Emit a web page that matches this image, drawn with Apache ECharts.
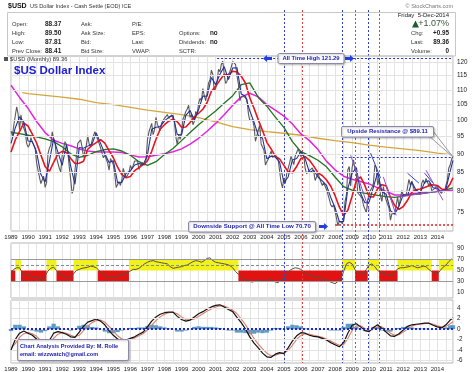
<!DOCTYPE html>
<html><head><meta charset="utf-8">
<script src="https://cdn.jsdelivr.net/npm/echarts@6/dist/echarts.min.js"></script>
<style>html,body{margin:0;padding:0;background:#fff}#c{width:474px;height:372px}</style>
</head><body><div id="c"></div>
<script>
// ---------- data ----------
const startYear = 1989;               // month index 0 = Jan 1989, 311 = Dec 2014
const priceTicks = [75, 80, 85, 90, 95, 100, 105, 110, 115, 120];
const rsiTicks = [10, 30, 50, 70, 90];
const macdTicks = [-6, -4, -2, 0, 2, 4];

// monthly closes
const close = [
  96.6, 95.3, 98.5, 99.0, 104.3, 102.0, 97.1, 101.7, 98.8, 97.6, 96.3, 93.0,
  91.9, 92.6, 94.7, 93.3, 92.5, 91.6, 87.5, 85.5, 85.6, 82.0, 82.4, 83.9,
  81.0, 82.1, 90.0, 91.6, 92.5, 96.4, 94.4, 93.2, 89.0, 89.3, 86.0, 85.0,
  89.5, 91.5, 93.5, 92.7, 90.5, 86.4, 83.0, 79.5, 80.5, 85.5, 89.0, 93.0,
  93.5, 94.0, 91.9, 89.0, 89.0, 92.5, 95.2, 92.8, 92.0, 93.7, 95.2, 96.5,
  96.5, 94.2, 93.0, 91.7, 91.8, 88.9, 89.6, 89.8, 87.5, 85.5, 88.7, 88.7,
  87.0, 84.5, 81.0, 81.0, 82.5, 81.5, 83.0, 86.0, 84.5, 83.6, 84.2, 84.8,
  86.8, 85.8, 86.8, 88.0, 88.2, 88.0, 85.7, 85.9, 87.6, 87.6, 86.9, 88.0,
  94.0, 96.3, 96.2, 99.0, 95.6, 97.0, 100.9, 98.7, 98.5, 96.8, 99.1, 99.6,
  100.6, 100.2, 101.8, 100.6, 101.2, 101.7, 101.6, 99.4, 94.9, 92.6, 95.7, 94.2,
  96.5, 100.3, 101.4, 102.8, 103.6, 104.8, 100.9, 101.8, 98.6, 99.7, 102.8, 101.9,
  105.4, 107.1, 106.3, 110.4, 108.0, 106.3, 109.0, 112.4, 113.4, 117.0, 115.5, 109.6,
  110.4, 112.9, 117.3, 116.4, 119.1, 120.4, 115.5, 112.2, 113.0, 115.5, 116.4, 116.8,
  120.2, 119.5, 119.1, 115.0, 112.0, 106.3, 107.6, 107.6, 107.7, 108.1, 106.8, 102.2,
  99.9, 100.1, 100.1, 98.1, 93.6, 95.3, 96.9, 98.4, 92.8, 92.4, 91.0, 86.9,
  87.8, 88.5, 88.6, 90.8, 89.0, 88.7, 89.7, 89.4, 88.4, 85.3, 82.4, 80.9,
  83.4, 82.0, 84.5, 84.5, 87.4, 89.3, 88.2, 87.0, 89.4, 89.7, 91.4, 91.2,
  89.2, 90.2, 89.6, 85.9, 84.6, 84.8, 85.4, 85.2, 86.1, 85.1, 82.8, 83.7,
  84.7, 83.5, 83.2, 81.5, 82.2, 81.8, 80.5, 80.7, 78.0, 76.7, 76.2, 76.7,
  75.2, 73.6, 71.8, 72.9, 72.8, 72.4, 73.2, 77.5, 79.1, 85.6, 86.5, 81.4,
  86.2, 88.3, 85.7, 84.6, 79.6, 80.1, 78.8, 78.3, 76.6, 76.6, 74.8, 77.9,
  79.5, 80.3, 81.0, 82.0, 86.9, 86.2, 81.6, 83.2, 78.9, 77.5, 81.2, 79.0,
  77.8, 76.8, 75.9, 73.1, 74.6, 74.3, 74.6, 74.3, 78.6, 76.3, 78.3, 80.2,
  79.0, 78.9, 79.0, 78.8, 83.1, 81.6, 82.6, 81.3, 79.9, 79.8, 80.1, 79.8,
  79.2, 82.1, 82.9, 81.9, 83.3, 83.2, 81.5, 82.2, 80.2, 80.2, 80.7, 80.2,
  81.3, 80.2, 80.1, 79.5, 80.4, 79.8, 81.5, 82.8, 86.0, 86.9, 88.4, 89.4
];

// quarterly readings (Jan, Apr, Jul, Oct of each year, then Dec 2014)
const blueMA = [
  93.0, 97.6, 101.1, 99.4,  93.7, 93.5, 90.5, 84.4,  82.4, 87.9, 94.4, 90.5,
  86.8, 92.6, 86.6, 81.8,  91.8, 91.6, 92.2, 92.8,  96.1, 93.0, 90.1, 87.6,
  88.1, 82.2, 82.3, 84.7,  85.3, 86.9, 87.3, 87.0,  89.6, 97.2, 97.8, 98.0,
  99.8, 100.9, 101.5, 95.6,  95.5, 101.5, 103.1, 100.0,  103.4, 107.9, 107.8, 114.3,
  111.8, 115.5, 118.3, 113.6,  117.8, 117.9, 108.6, 107.8,  103.0, 99.4, 95.3, 94.5,
  88.6, 89.3, 89.1, 87.7,  82.2, 83.7, 88.3, 88.7,  90.6, 88.6, 84.9, 85.5,
  83.7, 82.7, 81.5, 78.5,  76.0, 72.8, 72.8, 80.7,  84.7, 86.2, 79.5, 77.2,
  77.4, 81.1, 84.9, 79.9,  79.3, 75.3, 74.5, 76.4,  79.2, 78.9, 82.4, 80.3,
  79.7, 82.3, 82.7, 80.9,  80.7, 79.9, 80.6, 85.2,  88.2
];
const redMA = [
  90.5, 94.0, 96.5, 99.1,  98.2, 95.7, 93.1, 89.7,  86.5, 85.2, 87.6, 90.0,
  90.7, 90.4, 88.7, 87.3,  87.4, 87.9, 91.3, 92.4,  93.2, 94.1, 93.1, 90.9,
  88.9, 86.3, 84.3, 83.5,  83.8, 85.4, 86.2, 87.0,  88.0, 90.7, 94.2, 97.3,
  98.6, 99.7, 100.3, 99.5,  97.8, 97.9, 99.3, 101.0,  102.2, 103.5, 105.7, 109.5,
  111.2, 113.4, 115.4, 115.3,  116.6, 116.3, 114.8, 112.3,  107.3, 103.8, 100.1, 96.8,
  93.3, 91.4, 89.3, 88.6,  86.8, 85.1, 84.8, 86.5,  88.7, 89.2, 88.2, 86.6,
  84.8, 84.1, 82.9, 81.3,  79.0, 76.2, 74.2, 75.4,  78.8, 82.8, 83.7, 81.5,
  78.7, 78.6, 80.7, 81.7,  81.4, 78.5, 76.5, 75.6,  76.3, 77.8, 79.8, 80.4,
  80.6, 81.0, 81.4, 81.7,  81.5, 80.6, 80.4, 81.9,  83.5
];
// half-yearly readings (Jan, Jul of each year, then Dec 2014)
const greenMA = [
  96.3, 95.9, 95.4, 94.9, 94.3, 93.5, 92.0, 90.0, 89.0, 89.6, 90.6, 91.2,
  91.4, 90.8, 89.6, 87.8, 86.8, 87.8, 89.8, 91.5, 93.8, 96.2, 98.6, 100.8,
  102.9, 105.5, 108.0, 111.8, 112.4, 107.4, 104.5, 101.0, 97.8, 93.5, 90.6, 89.5,
  88.2, 86.4, 83.7, 81.2, 80.3, 79.7, 79.4, 79.0, 78.7, 78.5, 78.8, 79.2,
  79.4, 79.7, 80.0, 80.4, 80.9
];
const magentaMA = [
  111.6, 107.4, 103.8, 99.6, 96.2, 93.9, 93.0, 92.3, 91.4, 90.8, 90.5, 90.5,
  90.5, 90.4, 89.7, 89.1, 89.2, 89.6, 90.0, 90.6, 91.4, 92.8, 94.5, 96.6,
  99.0, 101.7, 104.8, 107.6, 108.8, 107.6, 105.0, 103.2, 101.3, 98.8, 95.8, 93.8,
  91.2, 87.9, 85.6, 83.9, 83.1, 82.5, 81.9, 80.9, 80.0, 79.1, 79.1, 79.4,
  79.6, 79.8, 80.0, 80.2, 80.3
];
// long average: month index / value
const goldMonths = [8, 12, 24, 36, 48, 60, 72, 84, 96, 108, 120, 132, 144, 156, 168, 180, 192, 204, 216, 228, 240, 252, 264, 276, 288, 300, 311];
const goldMA = [109.0, 108.7, 108.1, 107.5, 106.8, 105.7, 105.0, 104.1, 103.2, 102.5, 101.8, 100.8, 99.5, 98.0, 97.1, 96.5, 96.0, 95.4, 94.5, 93.8, 93.2, 92.5, 91.9, 91.4, 90.9, 90.2, 89.7];

// RSI every second month
const rsi = [
  48, 52, 55, 55, 46, 43, 42, 40, 38, 37, 36, 34,
  40, 49, 54, 56, 50, 44, 42, 39, 37, 38, 44, 50,
  52, 54, 55, 56, 58, 57, 55, 50, 45, 41, 39, 38,
  37, 39, 41, 43, 44, 45, 49, 52, 52, 54, 58, 62,
  65, 67, 68, 66, 65, 64, 63, 62, 57, 54, 55, 56,
  57, 59, 60, 63, 66, 68, 67, 65, 68, 72, 73, 68,
  65, 64, 63, 62, 61, 59, 55, 48, 43, 38, 35, 32,
  30, 29, 31, 33, 31, 30, 32, 34, 32, 29, 28, 33,
  37, 44, 50, 53, 55, 54, 52, 47, 43, 41, 40, 39,
  39, 37, 35, 33, 30, 28, 26, 30, 35, 48, 62, 65,
  62, 52, 45, 44, 43, 52, 60, 62, 57, 50, 47, 45,
  43, 42, 41, 46, 53, 55, 55, 56, 57, 59, 57, 55,
  56, 58, 57, 52, 48, 45, 43, 50, 56, 60, 66, 71
];
const yellowBlocks = [[3, 7], [25, 32], [44, 61], [83, 160], [233, 242], [251, 259], [272, 296], [301, 311]];
const redBlocks = [[0, 3], [7, 25], [32, 44], [61, 83], [160, 233], [242, 251], [259, 272], [296, 301]];

// MACD quarterly
const macd = [
  -4.0, -2.0, -0.8, -0.4,  -0.8, -1.2, -1.9, -2.9,  -3.2, -2.2, -0.8, -0.5,
  -0.7, -1.0, -1.5, -1.6,  -0.6, 0.5, 1.3, 1.6,  1.9, 1.5, 0.8, -0.3,
  -1.2, -1.9, -2.2, -2.1,  -1.8, -1.5, -1.0, -0.6,  0.4, 1.5, 2.3, 2.8,
  3.1, 3.2, 3.2, 2.4,  1.8, 1.5, 1.7, 2.3,  2.9, 3.3, 3.8, 4.2,
  4.5, 4.6, 4.2, 3.7,  3.3, 2.2, 1.2, 0.0,  -1.5, -2.7, -3.6, -4.6,
  -5.3, -5.4, -4.8, -4.5,  -4.7, -3.6, -2.3, -1.3,  -0.7, -0.8, -1.2, -1.4,
  -1.5, -1.8, -2.1, -2.6,  -3.0, -3.4, -2.6, -0.8,  0.7, 1.0, 0.4, -0.3,
  -0.5, 0.3, 0.8, 0.1,  -0.6, -1.3, -1.4, -0.9,  -0.2, 0.5, 0.8, 0.9,
  1.0, 1.1, 1.1, 0.7,  0.4, 0.2, 0.8, 1.7,  2.1
];
const signal = [
  -3.6, -2.8, -1.6, -0.9,  -0.7, -0.9, -1.4, -2.2,  -2.8, -2.7, -1.8, -1.0,
  -0.7, -0.8, -1.2, -1.5,  -1.2, -0.3, 0.6, 1.2,  1.6, 1.7, 1.3, 0.5,
  -0.4, -1.3, -1.9, -2.1,  -2.0, -1.7, -1.3, -0.9,  -0.2, 0.7, 1.6, 2.3,
  2.8, 3.1, 3.2, 2.9,  2.3, 1.8, 1.7, 1.9,  2.4, 2.9, 3.4, 3.8,
  4.2, 4.4, 4.4, 4.0,  3.6, 2.9, 1.9, 0.8,  -0.5, -1.8, -2.9, -3.8,
  -4.6, -5.1, -5.0, -4.7,  -4.6, -4.1, -3.1, -2.0,  -1.2, -0.9, -1.0, -1.2,
  -1.4, -1.6, -1.9, -2.3,  -2.7, -3.1, -3.0, -1.8,  -0.3, 0.6, 0.6, 0.1,
  -0.3, -0.1, 0.4, 0.4,  -0.1, -0.8, -1.2, -1.1,  -0.6, 0.0, 0.5, 0.8,
  0.9, 1.0, 1.1, 0.9,  0.6, 0.4, 0.5, 1.0,  1.4
];
const hist = [
  -0.4, 0.8, 0.8, 0.5,  -0.1, -0.3, -0.5, -0.7,  -0.4, 0.5, 1.0, 0.5,
  0.0, -0.2, -0.3, -0.1,  0.6, 0.8, 0.7, 0.4,  0.3, -0.2, -0.5, -0.8,
  -0.8, -0.6, -0.3, 0.0,  0.2, 0.2, 0.3, 0.3,  0.6, 0.8, 0.7, 0.5,
  0.3, 0.1, 0.0, -0.5,  -0.5, -0.3, 0.0, 0.4,  0.5, 0.4, 0.4, 0.4,
  0.3, 0.2, -0.2, -0.3,  -0.3, -0.7, -0.7, -0.8,  -1.0, -0.9, -0.7, -0.8,
  -0.7, -0.3, 0.2, 0.2,  -0.1, 0.5, 0.8, 0.7,  0.5, 0.1, -0.2, -0.2,
  -0.1, -0.2, -0.2, -0.3,  -0.3, -0.3, 0.4, 1.0,  1.0, 0.4, -0.2, -0.4,
  -0.2, 0.4, 0.4, -0.3,  -0.5, -0.5, -0.2, 0.2,  0.4, 0.5, 0.3, 0.1,
  0.1, 0.1, 0.0, -0.2,  -0.2, -0.2, 0.3, 0.7,  0.7
];

// analyst annotations
const allTimeHigh = 121.29, athFrom = 145;
const resistance = 89.11, resFrom = 232;
const supportLine = 72.0, supFrom = 228;
const blueVLines = [192, 233, 251];
const redVLines = [205, 242, 259];
const trendLines = [ // [m1, v1, m2, v2]
  [239, 89.6, 252, 75.4], [253, 90.2, 260, 83.4], [262, 83.7, 271, 74.2],
  [279, 84.7, 287, 82.1], [272, 78.6, 306, 80.3], [291, 84.7, 297, 82.1], [292, 85.5, 304, 77.8]
];

// header texts
const quoteLabels = [['Open:', 'High:', 'Low:', 'Prev Close:'], ['Ask:', 'Ask Size:', 'Bid:', 'Bid Size:'], ['P/E:', 'EPS:', 'Last:', 'VWAP:'], ['', 'Options:', 'Dividends:', 'SCTR:']];
const quoteValues = [['88.37', '89.50', '87.81', '88.41'], ['', 'no', 'no', '']];
const rightLabels = ['Chg:', 'Last:', 'Volume:'];
const rightValues = ['+0.95', '89.36', '0'];

// ---------- chart ----------
const FONT = '"Liberation Sans", Arial, sans-serif';
const fnt = (s, b) => (b ? 'bold ' : '') + s + 'px ' + FONT;
const chart = echarts.init(document.getElementById('c'));
const pairs = (arr, step) => arr.map((v, i) => [Math.min(i * step, 311), v]);

function xAx(gi, show) {
  return {
    type: 'value', gridIndex: gi, min: 0, max: 311, interval: 6,
    axisLine: { show: false }, axisTick: { show: false },
    splitLine: { show: true, lineStyle: { color: '#e3e3e3', width: 1 } },
    axisLabel: { show: show, fontSize: 6, color: '#222', fontFamily: FONT, margin: 3,
      formatter: v => (v % 12 === 0 ? String(startYear + v / 12) : '') }
  };
}
const yLab = vals => ({ customValues: vals, fontSize: 6.3, color: '#222', fontFamily: FONT, margin: 4 });
const gridLineSeries = (xi, vals) => ({
  type: 'line', xAxisIndex: xi, yAxisIndex: xi, data: [], z: 1, silent: true,
  markLine: { silent: true, symbol: 'none', label: { show: false }, animation: false,
    lineStyle: { color: '#e3e3e3', type: 'solid', width: 1 },
    data: vals.map(v => ({ yAxis: v })) }
});
const ln = (data, color, width, xi, z) => ({
  type: 'line', xAxisIndex: xi || 0, yAxisIndex: xi || 0, data, showSymbol: false, symbol: 'none',
  lineStyle: { color, width }, z: z || 2, silent: true
});
const hLine = (from, val) => [{ coord: [from, val] }, { coord: [311, val] }];
const markLines = (xi, data, color, width, dash) => Object.assign(ln([], color, 1, xi), {
  z: 5,
  markLine: { silent: true, symbol: 'none', label: { show: false }, animation: false,
    data, lineStyle: { color, type: dash, width } }
});

chart.setOption({
  animation: false,
  grid: [
    { left: 11, right: 21, top: 56, height: 175, show: true, borderColor: '#b5b5b5', borderWidth: 1 },
    { left: 11, right: 21, top: 243, height: 55, show: true, borderColor: '#b5b5b5', borderWidth: 1 },
    { left: 11, right: 21, top: 300, height: 63, show: true, borderColor: '#b5b5b5', borderWidth: 1 }
  ],
  xAxis: [xAx(0, true), xAx(1, false), xAx(2, true)],
  yAxis: [
    { type: 'log', gridIndex: 0, position: 'right', min: 70.66, max: 122.3, axisLine: { show: false }, axisTick: { show: false }, splitLine: { show: false }, minorTick: { show: false }, axisLabel: yLab(priceTicks) },
    { type: 'value', gridIndex: 1, position: 'right', min: 0, max: 100, axisLine: { show: false }, axisTick: { show: false }, splitLine: { show: false }, axisLabel: yLab(rsiTicks) },
    { type: 'value', gridIndex: 2, position: 'right', min: -6.48, max: 5.52, axisLine: { show: false }, axisTick: { show: false }, splitLine: { show: false }, axisLabel: yLab(macdTicks) }
  ],
  series: [
    gridLineSeries(0, priceTicks),
    gridLineSeries(2, macdTicks),
    ln(goldMonths.map((m, i) => [m, goldMA[i]]), '#d6a63c', 1.3),
    ln(pairs(magentaMA, 6), '#e424dc', 1.5),
    ln(pairs(greenMA, 6), '#217321', 1.3),
    ln(close.map((v, i) => [i, v]), '#5a5a5a', 1.1),
    ln(pairs(redMA, 3), '#e8141e', 1.6, 0, 3),
    ln(pairs(blueMA, 3), '#22309e', 1.1, 0, 4),
    markLines(0, [hLine(athFrom, allTimeHigh), hLine(resFrom, resistance)], '#2233cc', 1, [2, 2]),
    markLines(0, [hLine(supFrom, supportLine)], '#e02020', 1.5, [2, 2]),
    ...trendLines.map((t, i) => ln([[t[0], t[1]], [t[2], t[3]]], i % 2 ? '#3040d0' : '#9050d0', 1, 0, 5)),
    // RSI
    {
      type: 'line', xAxisIndex: 1, yAxisIndex: 1, data: pairs(rsi, 2), showSymbol: false, symbol: 'none',
      lineStyle: { color: '#5a5040', width: 1 }, z: 3, silent: true,
      markArea: { silent: true, data:
        yellowBlocks.map(b => [{ coord: [b[0], 50], itemStyle: { color: '#f2f21a' } }, { coord: [b[1], 70] }])
        .concat(redBlocks.map(b => [{ coord: [b[0], 30], itemStyle: { color: '#e01212' } }, { coord: [b[1], 50] }])) }
    },
    markLines(1, [{ yAxis: 70 }, { yAxis: 30 }], '#9a9a9a', 1, 'solid'),
    markLines(1, [{ yAxis: 60 }], '#7d8ca0', 1, [3, 2]),
    // MACD
    {
      type: 'bar', xAxisIndex: 2, yAxisIndex: 2, data: pairs(hist, 3), barWidth: 4.3, z: 2, silent: true,
      itemStyle: { color: '#4a90c0', opacity: 0.9 }
    },
    markLines(2, [{ yAxis: 0 }], '#1a2ad0', 2, [2, 2]),
    ln(pairs(signal, 3), '#e07a6a', 1.1, 2, 3),
    ln(pairs(macd, 3), '#111', 1.2, 2, 4)
  ]
});

// ---------- graphics (header, annotation boxes, marker lines) ----------
const T = (x, y, text, size, o) => {
  o = o || {};
  return { type: 'text', x, y, z: 60, silent: true,
    style: { text, font: fnt(size, o.bold), fill: o.color || '#222', align: o.align || 'left', verticalAlign: 'middle' } };
};
const box = (x, y, w, h) => ({ type: 'rect', z: 58, silent: true, shape: { x, y, width: w, height: h, r: 1.5 },
  style: { fill: '#fff', stroke: '#8a8aa8', lineWidth: 1, shadowBlur: 2, shadowColor: 'rgba(0,0,0,0.25)', shadowOffsetX: 1, shadowOffsetY: 1 } });
const arrowR = (x, y) => ({ type: 'polygon', z: 59, silent: true, shape: { points: [[x + 9, y], [x + 5, y - 3.5], [x + 5, y - 1.6], [x, y - 1.6], [x, y + 1.6], [x + 5, y + 1.6], [x + 5, y + 3.5]] }, style: { fill: '#1f3fe0' } });
const arrowL = (x, y) => ({ type: 'polygon', z: 59, silent: true, shape: { points: [[x, y], [x + 4, y - 3.5], [x + 4, y - 1.6], [x + 9, y - 1.6], [x + 9, y + 1.6], [x + 4, y + 1.6], [x + 4, y + 3.5]] }, style: { fill: '#1f3fe0' } });

const g = [];
// vertical marker lines
const vline = (m, color) => {
  const x = Math.round(chart.convertToPixel({ xAxisIndex: 0 }, m)) + 0.5;
  g.push({ type: 'line', z: 1, silent: true, shape: { x1: x, y1: 10, x2: x, y2: 363 }, style: { stroke: color, lineWidth: 1, lineDash: [2, 2] } });
};
blueVLines.forEach(m => vline(m, '#3344cc'));
redVLines.forEach(m => vline(m, '#e04040'));

// header
g.push({ type: 'rect', z: 50, silent: true, shape: { x: 7.5, y: 12.5, width: 448, height: 43.5 }, style: { fill: 'none', stroke: '#c8c8c8', lineWidth: 1 } });
g.push(T(8, 6, '$USD', 7, { bold: true, color: '#111' }));
g.push(T(30, 6.5, 'US Dollar Index - Cash Settle (EOD) ICE', 5.6, { color: '#333' }));
const rowY = [24, 33, 42, 51];
const colX = [12, 81, 132, 179];
quoteLabels.forEach((col, c) => col.forEach((t, r) => { if (t) g.push(T(colX[c], rowY[r], t, 5.8, { color: '#333' })); }));
quoteValues[0].forEach((t, r) => g.push(T(45, rowY[r], t, 6.5, { bold: true, color: '#222' })));
quoteValues[1].forEach((t, r) => { if (t) g.push(T(210, rowY[r], t, 6.3, { bold: true, color: '#222' })); });
g.push(T(453, 6, '\u00a9 StockCharts.com', 5.5, { align: 'right', color: '#777' }));
g.push(T(449, 15, 'Friday  5-Dec-2014', 6, { align: 'right', color: '#222' }));
g.push({ type: 'polygon', z: 60, silent: true, shape: { points: [[412, 27.5], [415.5, 20.5], [419, 27.5]] }, style: { fill: '#1d5e2a' } });
g.push(T(449, 24, '+1.07%', 9, { align: 'right', color: '#3b533b' }));
rightLabels.forEach((t, i) => { g.push(T(411, rowY[i + 1], t, 5.8, { color: '#333' })); g.push(T(449, rowY[i + 1], rightValues[i], 6.3, { bold: true, align: 'right' })); });
g.push(T(10, 59.5, '$USD (Monthly) 89.36', 5.8, { color: '#333' }));
g.push({ type: 'rect', z: 60, silent: true, shape: { x: 4, y: 57, width: 4, height: 4 }, style: { fill: '#555' } });
g.push(T(14, 71, '$US Dollar Index', 11.5, { bold: true, color: '#1c1cd0' }));

// all time high box
g.push(arrowL(263, 58.5));
g.push(box(278, 53.5, 66, 10));
g.push(T(311, 58.5, 'All Time High 121.29', 5.9, { bold: true, color: '#2222b0', align: 'center' }));
g.push(arrowR(345, 58.5));
// resistance box with connector
const rp = chart.convertToPixel({ xAxisIndex: 0, yAxisIndex: 0 }, [311, resistance]);
g.push({ type: 'line', z: 57, silent: true, shape: { x1: 429, y1: 136, x2: rp[0], y2: rp[1] }, style: { stroke: '#999', lineWidth: 1 } });
g.push({ type: 'line', z: 57, silent: true, shape: { x1: 433, y1: 131, x2: rp[0], y2: rp[1] }, style: { stroke: '#999', lineWidth: 1 } });
g.push(box(341.5, 126.5, 92, 10.5));
g.push(T(387.5, 131.8, 'Upside Resistance @ $89.11', 6, { bold: true, color: '#2222b0', align: 'center' }));
// support box
g.push(box(188.5, 221.5, 127, 10.5));
g.push(T(252, 226.8, 'Downside Support @ All Time Low 70.70', 6.1, { bold: true, color: '#2222b0', align: 'center' }));
g.push(arrowR(319, 226.5));
// credit box
g.push(box(17.5, 339.5, 111, 21));
g.push(T(20, 346.5, 'Chart Analysis Provided By: M. Rolle', 5.6, { bold: true, color: '#2222b0' }));
g.push(T(20, 354.5, 'email: wizzwatch@gmail.com', 5.6, { bold: true, color: '#2222b0' }));

chart.setOption({ graphic: { elements: g } });
</script>
</body></html>
